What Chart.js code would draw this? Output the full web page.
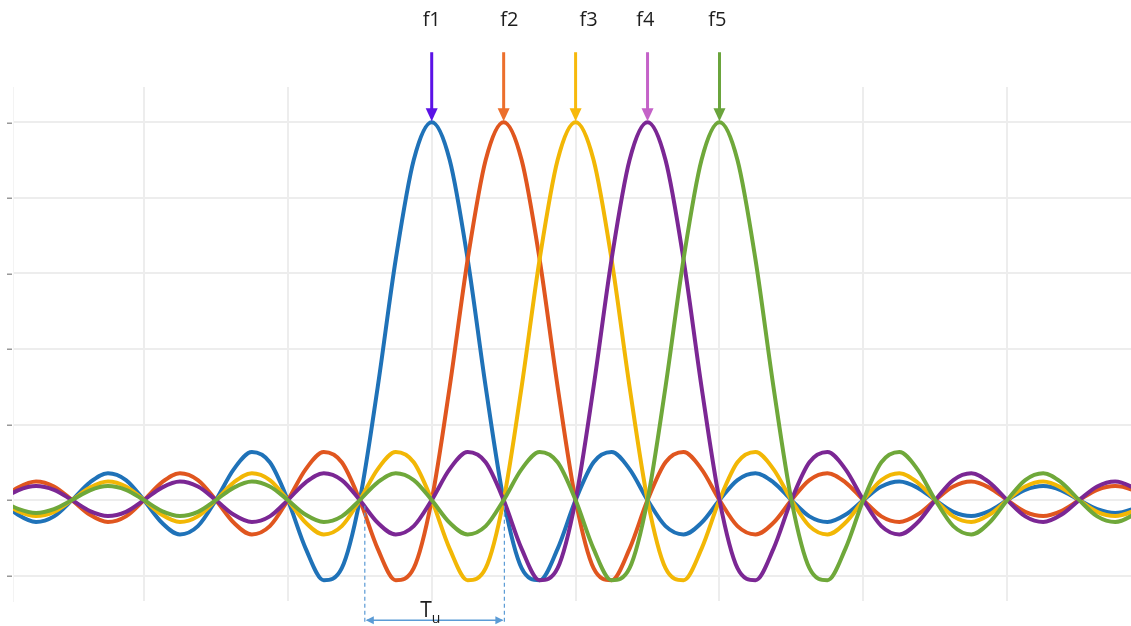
<!DOCTYPE html>
<html>
<head>
<meta charset="utf-8">
<script src="https://cdn.jsdelivr.net/npm/chart.js@4/dist/chart.umd.min.js"></script>
<style>
  body { margin: 0; background: #fff; }
  #wrap { width: 1131px; height: 626px; position: relative; }
</style>
</head>
<body>
<div id="wrap"><canvas id="chart"></canvas></div>
<script>
// サブキャリア（f1〜f5）のスペクトル — 横軸はサブキャリア間隔単位、f3 が中心
const xs = [];
for (let i = 0; i <= 64; i++) xs.push(-8 + i * 0.25);

const freqLabels = ['f1', 'f2', 'f3', 'f4', 'f5'];
const peakX = [-2, -1, 0, 1, 2];

// 図から読み取った値（x = -8 .. 8, 0.25 刻み）
const f1 = [
  0, -0.039, -0.058, -0.043,
  0, 0.047, 0.071, 0.053,
  0, -0.060, -0.091, -0.069,
  0, 0.082, 0.127, 0.100,
  0, -0.129, -0.212, -0.180,
  0, 0.300, 0.637, 0.900,
  1, 0.900, 0.637, 0.300,
  0, -0.180, -0.212, -0.129,
  0, 0.100, 0.127, 0.082,
  0, -0.069, -0.091, -0.060,
  0, 0.053, 0.071, 0.047,
  0, -0.043, -0.058, -0.039,
  0, 0.036, 0.049, 0.033,
  0, -0.031, -0.042, -0.029,
  0, 0.027, 0.037, 0.026,
  0, -0.024, -0.034, -0.023,
  0
];
const f2 = [
  0, 0.033, 0.049, 0.036,
  0, -0.039, -0.058, -0.043,
  0, 0.047, 0.071, 0.053,
  0, -0.060, -0.091, -0.069,
  0, 0.082, 0.127, 0.100,
  0, -0.129, -0.212, -0.180,
  0, 0.300, 0.637, 0.900,
  1, 0.900, 0.637, 0.300,
  0, -0.180, -0.212, -0.129,
  0, 0.100, 0.127, 0.082,
  0, -0.069, -0.091, -0.060,
  0, 0.053, 0.071, 0.047,
  0, -0.043, -0.058, -0.039,
  0, 0.036, 0.049, 0.033,
  0, -0.031, -0.042, -0.029,
  0, 0.027, 0.037, 0.026,
  0
];
const f3 = [
  0, -0.029, -0.042, -0.031,
  0, 0.033, 0.049, 0.036,
  0, -0.039, -0.058, -0.043,
  0, 0.047, 0.071, 0.053,
  0, -0.060, -0.091, -0.069,
  0, 0.082, 0.127, 0.100,
  0, -0.129, -0.212, -0.180,
  0, 0.300, 0.637, 0.900,
  1, 0.900, 0.637, 0.300,
  0, -0.180, -0.212, -0.129,
  0, 0.100, 0.127, 0.082,
  0, -0.069, -0.091, -0.060,
  0, 0.053, 0.071, 0.047,
  0, -0.043, -0.058, -0.039,
  0, 0.036, 0.049, 0.033,
  0, -0.031, -0.042, -0.029,
  0
];
const f4 = [
  0, 0.026, 0.037, 0.027,
  0, -0.029, -0.042, -0.031,
  0, 0.033, 0.049, 0.036,
  0, -0.039, -0.058, -0.043,
  0, 0.047, 0.071, 0.053,
  0, -0.060, -0.091, -0.069,
  0, 0.082, 0.127, 0.100,
  0, -0.129, -0.212, -0.180,
  0, 0.300, 0.637, 0.900,
  1, 0.900, 0.637, 0.300,
  0, -0.180, -0.212, -0.129,
  0, 0.100, 0.127, 0.082,
  0, -0.069, -0.091, -0.060,
  0, 0.053, 0.071, 0.047,
  0, -0.043, -0.058, -0.039,
  0, 0.036, 0.049, 0.033,
  0
];
const f5 = [
  0, -0.023, -0.034, -0.024,
  0, 0.026, 0.037, 0.027,
  0, -0.029, -0.042, -0.031,
  0, 0.033, 0.049, 0.036,
  0, -0.039, -0.058, -0.043,
  0, 0.047, 0.071, 0.053,
  0, -0.060, -0.091, -0.069,
  0, 0.082, 0.127, 0.100,
  0, -0.129, -0.212, -0.180,
  0, 0.300, 0.637, 0.900,
  1, 0.900, 0.637, 0.300,
  0, -0.180, -0.212, -0.129,
  0, 0.100, 0.127, 0.082,
  0, -0.069, -0.091, -0.060,
  0, 0.053, 0.071, 0.047,
  0, -0.043, -0.058, -0.039,
  0
];

const yTicks = [-0.2, 0, 0.2, 0.4, 0.6, 0.8, 1.0];
const xTicks = [-6, -4, -2, 0, 2, 4, 6];

const seriesList = [f1, f2, f3, f4, f5];
const lineColors = ['#1f72b8', '#e0561f', '#f2b705', '#7b2794', '#6fa83a'];
const arrowColors = ['#5b12e6', '#ec6f2c', '#f7b90c', '#c462c8', '#6aa43c'];

// 注釈の位置（データ座標）
const labelX = [-2, -0.92, 0.18, 0.97, 1.97];
const labelY = 1.27;
const arrowTop = 1.185;
const tuStart = -2.93;
const tuEnd = -0.99;

/**
 * 矢印・ラベル・Tu 注釈の描画
 */
const annotations = {
  id: 'annotations',
  afterDatasetsDraw(chart) {
    const { ctx, scales: { x, y } } = chart;
    ctx.save();

    peakX.forEach((p, i) => {
      const cx = x.getPixelForValue(p);
      const yTop = y.getPixelForValue(arrowTop);
      const yTip = y.getPixelForValue(1.0) - 1;
      ctx.strokeStyle = arrowColors[i];
      ctx.fillStyle = arrowColors[i];
      ctx.lineWidth = 3;
      ctx.beginPath();
      ctx.moveTo(cx, yTop);
      ctx.lineTo(cx, yTip - 10);
      ctx.stroke();
      ctx.beginPath();
      ctx.moveTo(cx - 6, yTip - 13);
      ctx.lineTo(cx + 6, yTip - 13);
      ctx.lineTo(cx, yTip);
      ctx.closePath();
      ctx.fill();

      ctx.fillStyle = '#1e1e1e';
      ctx.font = '20px "Open Sans", sans-serif';
      ctx.textAlign = 'center';
      ctx.textBaseline = 'middle';
      ctx.fillText(freqLabels[i], x.getPixelForValue(labelX[i]), y.getPixelForValue(labelY));
    });

    // Tu
    const xa = x.getPixelForValue(tuStart);
    const xb = x.getPixelForValue(tuEnd);
    const yA = y.getPixelForValue(-0.015);
    const yB = y.getPixelForValue(-0.323);
    const yArr = y.getPixelForValue(-0.318);
    ctx.strokeStyle = '#5b9bd5';
    ctx.fillStyle = '#5b9bd5';
    ctx.lineWidth = 1.2;
    ctx.setLineDash([4, 3]);
    [xa, xb].forEach(px => {
      ctx.beginPath();
      ctx.moveTo(px, yA);
      ctx.lineTo(px, yB);
      ctx.stroke();
    });
    ctx.setLineDash([]);
    ctx.lineWidth = 1.5;
    ctx.beginPath();
    ctx.moveTo(xa + 2, yArr);
    ctx.lineTo(xb - 2, yArr);
    ctx.stroke();
    ctx.beginPath();
    ctx.moveTo(xa + 1, yArr);
    ctx.lineTo(xa + 9, yArr - 4);
    ctx.lineTo(xa + 9, yArr + 4);
    ctx.closePath();
    ctx.fill();
    ctx.beginPath();
    ctx.moveTo(xb - 1, yArr);
    ctx.lineTo(xb - 9, yArr - 4);
    ctx.lineTo(xb - 9, yArr + 4);
    ctx.closePath();
    ctx.fill();

    const tx = x.getPixelForValue(-2.08);
    ctx.fillStyle = '#1e1e1e';
    ctx.textAlign = 'center';
    ctx.textBaseline = 'alphabetic';
    ctx.font = '21px "Open Sans", sans-serif';
    ctx.fillText('T', tx, yArr - 3);
    ctx.font = '14px "Open Sans", sans-serif';
    ctx.fillText('u', tx + 10, yArr + 3);

    ctx.restore();
  }
};

new Chart(document.getElementById('chart').getContext('2d'), {
  type: 'line',
  data: {
    labels: xs,
    datasets: seriesList.map((vals, i) => ({
      label: freqLabels[i],
      data: vals.map((v, k) => ({ x: xs[k], y: v })),
      borderColor: lineColors[i],
      borderWidth: 4,
      pointRadius: 0,
      cubicInterpolationMode: 'monotone',
      fill: false,
      order: 5 - i
    }))
  },
  options: {
    responsive: true,
    maintainAspectRatio: false,
    animation: false,
    layout: { padding: { top: 87, bottom: 25, left: 0, right: 0 } },
    plugins: {
      legend: { display: false },
      tooltip: { enabled: false }
    },
    scales: {
      x: {
        type: 'linear',
        min: -7.82,
        max: 7.72,
        afterBuildTicks: axis => { axis.ticks = xTicks.map(v => ({ value: v })); },
        afterFit: axis => { axis.height = 0; },
        ticks: { display: false },
        grid: { color: '#ededed', lineWidth: 2, drawTicks: false },
        border: { display: false }
      },
      y: {
        min: -0.267,
        max: 1.093,
        afterBuildTicks: axis => { axis.ticks = yTicks.map(v => ({ value: v })); },
        afterFit: axis => { axis.width = 13; },
        ticks: {
          padding: 1,
          color: '#999',
          font: { size: 5 },
          callback: () => '▬'
        },
        grid: { color: '#ededed', lineWidth: 2, drawTicks: false },
        border: { display: true, color: '#f3f3f3' }
      }
    }
  },
  plugins: [annotations]
});
</script>
</body>
</html>
